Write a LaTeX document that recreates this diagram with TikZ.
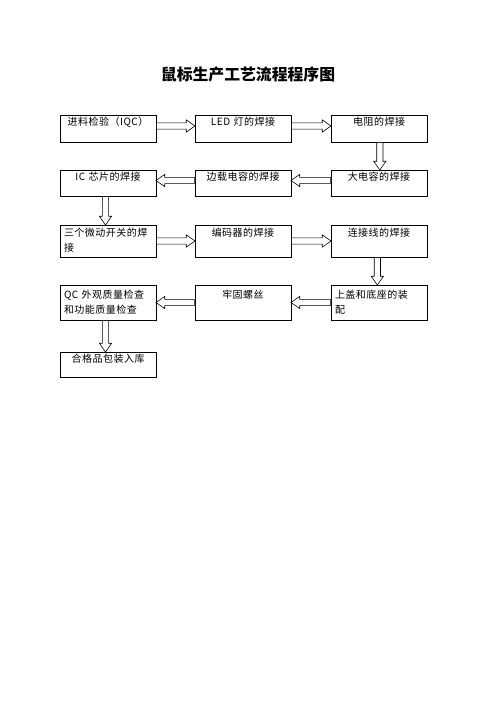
\documentclass[tikz,border=0pt]{standalone}
\usepackage{fontspec}
\setmainfont{Noto Sans CJK SC}[LetterSpace=5]
\usetikzlibrary{calc}
\usetikzlibrary{shapes.arrows}

\newcommand{\flowarrow}[2]{%
  \path let \p1=($(#2)-(#1)$), \n1={veclen(\x1,\y1)}, \n2={atan2(\y1,\x1)} in
    node[blockarrow, minimum height=\n1, rotate=\n2, anchor=tail] at (#1) {};}

\begin{document}
\begin{tikzpicture}
[x=1.2pt,y=-1.2pt,line width=0.7pt,%
  stage/.style 2 args={shape=rectangle,draw,text width=105.6pt,inner xsep=4.8pt,
    inner ysep=0pt,text height=#1,text depth=#2,align=center,
    font=\fontsize{12pt}{18pt}\selectfont},%
  blockarrow/.style={single arrow,draw,fill=white,inner xsep=0pt,inner ysep=3.4pt,
    minimum width=14.4pt,single arrow head extend=3.6pt,
    single arrow tip angle=70}]
\useasboundingbox (0,0) rectangle (496,702);
\node (title) at (248,75) {\fontsize{19pt}{22pt}\selectfont\bfseries\addfontfeature{LetterSpace=0}鼠标生产工艺流程程序图};
% first row
\node[stage={13pt}{19.4pt}] (iqc) at (108,128.5) {进料检验（IQC）};
\node[stage={13pt}{19.4pt}] (led) at (243,128.5) {LED 灯的焊接};
\node[stage={13pt}{19.4pt}] (resistor) at (379,128.5) {电阻的焊接};
% second row
\node[stage={13pt}{18.2pt}] (bigcap) at (379,183) {大电容的焊接};
\node[stage={13pt}{18.2pt}] (sidecap) at (243,183) {边载电容的焊接};
\node[stage={13pt}{18.2pt}] (icchip) at (108,183) {IC 芯片的焊接};
% third row
\node[stage={14pt}{24.4pt},align=left] (switches) at (108,241) {三个微动开关的焊\\接};
\node[stage={14pt}{24.4pt}] (encoder) at (243,241) {编码器的焊接};
\node[stage={14pt}{24.4pt}] (wire) at (379,241) {连接线的焊接};
% fourth row
\node[stage={16pt}{26pt},align=left] (cover) at (379,302.5) {上盖和底座的装\\配};
\node[stage={16pt}{26pt}] (screws) at (243,302.5) {牢固螺丝};
\node[stage={16pt}{26pt},align=left] (qc) at (108,302.5) {QC 外观质量检查\\和功能质量检查};
% last
\node[stage={13pt}{17pt}] (pack) at (108,364.5) {合格品包装入库};

\flowarrow{[yshift=3pt]iqc.east}{[yshift=3pt]led.west}
\flowarrow{[yshift=3pt]led.east}{[yshift=3pt]resistor.west}
\flowarrow{[xshift=1pt]resistor.south}{[xshift=1pt]bigcap.north}
\flowarrow{[yshift=3pt]bigcap.west}{[yshift=3pt]sidecap.east}
\flowarrow{[yshift=3pt]sidecap.west}{[yshift=3pt]icchip.east}
\flowarrow{[xshift=-3pt]icchip.south}{[xshift=-3pt]switches.north}
\flowarrow{switches.east}{encoder.west}
\flowarrow{encoder.east}{wire.west}
\flowarrow{[xshift=-2pt]wire.south}{[xshift=-2pt]cover.north}
\flowarrow{cover.west}{screws.east}
\flowarrow{screws.west}{qc.east}
\flowarrow{[xshift=-3pt]qc.south}{[xshift=-3pt]pack.north}
\end{tikzpicture}
\end{document}
